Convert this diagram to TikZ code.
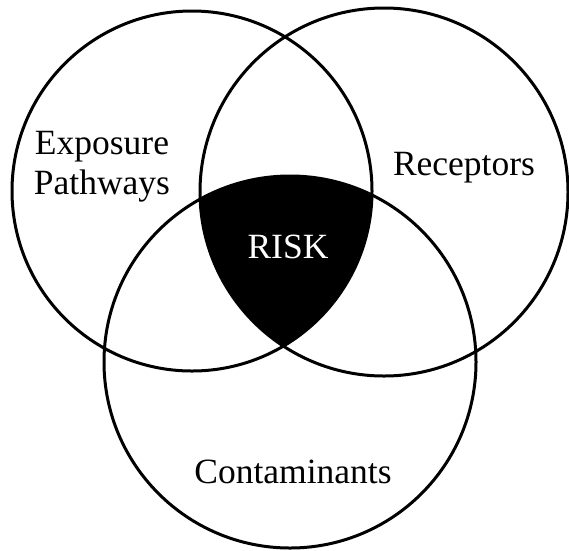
\documentclass[tikz,border=0pt]{standalone}
\usepackage{fontspec}
\setmainfont{Liberation Serif}
\begin{document}
\begin{tikzpicture}[x=1pt,y=1pt,
  ring/.style={circle,draw=black,line width=3pt,inner sep=0pt,outer sep=0pt},
  lbl/.style={font=\fontsize{35.5}{40}\selectfont,align=center,inner sep=0pt}]
\useasboundingbox (0,0) rectangle (569,-550);
\begin{scope}
  \clip (192,-191) circle (180);
  \clip (384,-192) circle (184);
  \fill[black] (290,-362) circle (186);
\end{scope}
\node[ring,minimum size=360pt] (L) at (192,-191) {};
\node[ring,minimum size=368pt] (R) at (384,-192) {};
\node[ring,minimum size=372pt] (B) at (290,-362) {};
\node[lbl] (exp) at (102,-167) {Exposure\\Pathways};
\node[lbl] (rec) at (464,-168) {Receptors};
\node[lbl,text=white] (risk) at (288,-247) {RISK};
\node[lbl] (con) at (293,-472) {Contaminants};
\end{tikzpicture}
\end{document}
